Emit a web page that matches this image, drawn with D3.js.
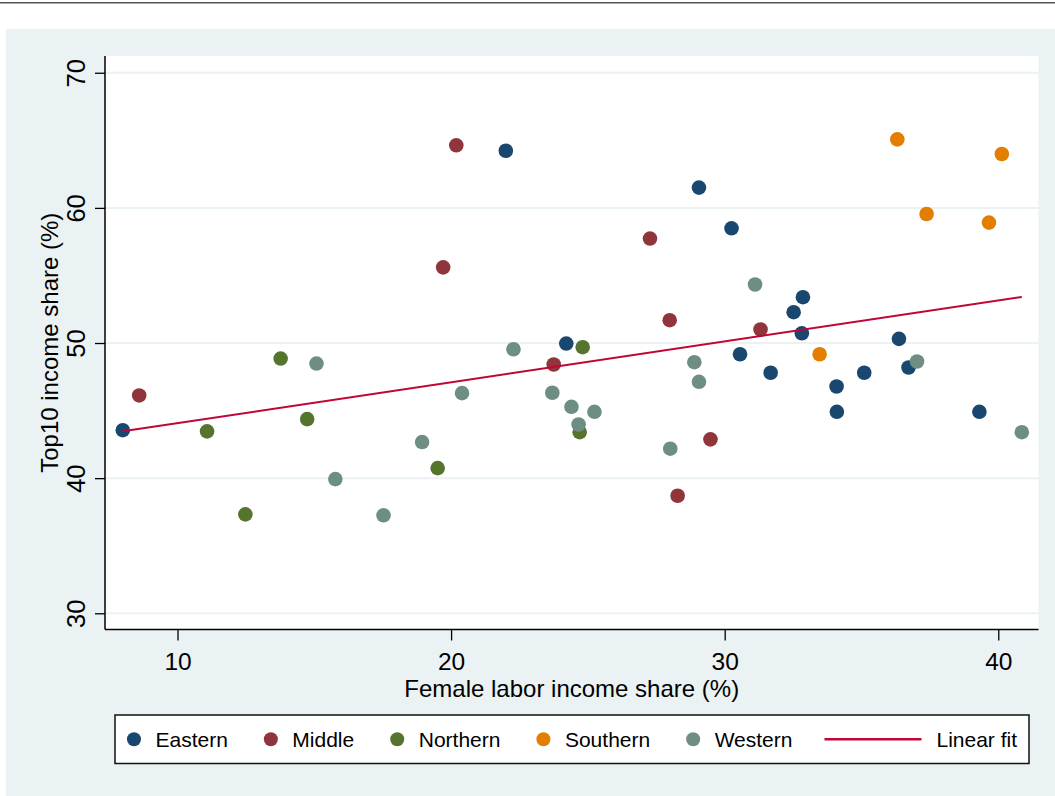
<!DOCTYPE html>
<html>
<head>
<meta charset="utf-8">
<script src="https://cdn.jsdelivr.net/npm/d3@7"></script>
<style>
  body { margin: 0; background: #fff; }
  svg { display: block; font-family: "Liberation Sans", Arial, Helvetica, sans-serif; }
</style>
</head>
<body>
<svg id="chart" width="1055" height="796"></svg>
<script>
// region groups, drawn in this order
const regions = ["Eastern", "Middle", "Northern", "Southern", "Western"];
const regionColors = ["#1a476f", "#90353b", "#55752f", "#e37e00", "#6e8e84"];

// female labor income share (%) per country, by region
const easternX = [8.0, 22.0, 24.21, 29.06, 30.25, 30.56, 31.68, 32.52, 32.86, 32.82, 34.09, 34.10, 35.10, 36.37, 36.72, 39.31];
const easternY = [43.55, 64.23, 49.96, 61.5, 58.49, 49.17, 47.8, 52.28, 53.39, 50.72, 46.78, 44.91, 47.8, 50.31, 48.19, 44.91];
const middleX = [8.6, 19.71, 20.19, 23.75, 27.27, 27.99, 29.48, 28.28, 31.31];
const middleY = [46.12, 55.6, 64.63, 48.41, 57.73, 51.69, 42.87, 38.7, 51.0];
const northernX = [11.08, 13.77, 14.74, 12.48, 19.51, 24.81, 24.7];
const northernY = [43.46, 48.85, 44.37, 37.32, 40.74, 49.69, 43.4];
const southernX = [33.47, 36.31, 37.38, 39.66, 40.13];
const southernY = [49.17, 65.07, 59.55, 58.91, 63.99];
const westernX = [15.08, 15.77, 17.53, 18.94, 20.4, 22.28, 23.7, 24.4, 25.24, 24.66, 28.89, 29.06, 28.01, 31.11, 37.03, 40.86];
const westernY = [48.48, 39.93, 37.25, 42.67, 46.29, 49.54, 46.32, 45.28, 44.91, 43.97, 48.58, 47.13, 42.18, 54.33, 48.63, 43.4];

const xTicks = [10, 20, 30, 40];
const yTicks = [30, 40, 50, 60, 70];
const xTitle = "Female labor income share (%)";
const yTitle = "Top10 income share (%)";
const fitLabel = "Linear fit";

const seriesX = [easternX, middleX, northernX, southernX, westernX];
const seriesY = [easternY, middleY, northernY, southernY, westernY];

const points = [];
regions.forEach((region, i) => {
  seriesX[i].forEach((x, j) => points.push({ region, color: regionColors[i], x, y: seriesY[i][j] }));
});

// ordinary least squares over all countries
const meanX = d3.mean(points, (d) => d.x);
const meanY = d3.mean(points, (d) => d.y);
const slope =
  d3.sum(points, (d) => (d.x - meanX) * (d.y - meanY)) /
  d3.sum(points, (d) => (d.x - meanX) ** 2);
const intercept = meanY - slope * meanX;
const fitLine = d3.extent(points, (d) => d.x).map((x) => ({ x, y: intercept + slope * x }));

const svg = d3.select("#chart");
const plot = { left: 105, right: 1038.5, top: 56, bottom: 629.5 };

const x = d3.scaleLinear().domain([7.35, 41.47]).range([plot.left, plot.right]);
const y = d3.scaleLinear().domain([28.8, 71.24]).range([plot.bottom, plot.top]);

// page rule and graph background
svg.append("line")
  .attr("x1", 0).attr("x2", 1055).attr("y1", 2.7).attr("y2", 2.7)
  .attr("stroke", "#555").attr("stroke-width", 1.4);
svg.append("rect")
  .attr("x", 6).attr("y", 29).attr("width", 1049).attr("height", 767)
  .attr("fill", "#eaf2f3");
svg.append("rect")
  .attr("x", plot.left).attr("y", plot.top)
  .attr("width", plot.right - plot.left).attr("height", plot.bottom - plot.top)
  .attr("fill", "#fff");

// gridlines
svg.append("g")
  .selectAll("line")
  .data(yTicks)
  .join("line")
  .attr("x1", plot.left).attr("x2", plot.right)
  .attr("y1", (d) => y(d)).attr("y2", (d) => y(d))
  .attr("stroke", "#eaf2f3").attr("stroke-width", 2);

// axes
const xAxis = svg.append("g")
  .attr("transform", `translate(0,${plot.bottom})`)
  .call(d3.axisBottom(x).tickValues(xTicks).tickSize(11).tickPadding(4).tickSizeOuter(0));
const yAxis = svg.append("g")
  .attr("transform", `translate(${plot.left},0)`)
  .call(d3.axisLeft(y).tickValues(yTicks).tickSize(10).tickSizeOuter(0));

[xAxis, yAxis].forEach((g) => {
  g.select(".domain").attr("stroke", "#000").attr("stroke-width", 1.5);
  g.selectAll(".tick line").attr("stroke", "#000").attr("stroke-width", 1.3);
});
xAxis.select(".domain").attr("d", `M${plot.left},0H${plot.right}`);
yAxis.select(".domain").attr("d", `M0,${plot.top}V${plot.bottom}`);

xAxis.selectAll(".tick text")
  .attr("y", 40.5).attr("dy", null)
  .attr("fill", "#000").attr("font-size", 24.5);
yAxis.selectAll(".tick text")
  .attr("x", null).attr("dy", null)
  .attr("fill", "#000").attr("font-size", 25.5)
  .attr("text-anchor", "middle")
  .attr("transform", "translate(-20,0) rotate(-90)");

// axis titles
svg.append("text")
  .attr("x", (plot.left + plot.right) / 2).attr("y", 696.5)
  .attr("text-anchor", "middle").attr("font-size", 24)
  .text(xTitle);
svg.append("text")
  .attr("transform", `translate(58,${(plot.top + plot.bottom) / 2}) rotate(-90)`)
  .attr("text-anchor", "middle").attr("font-size", 24)
  .text(yTitle);

// scatter markers
svg.append("g")
  .selectAll("circle")
  .data(points)
  .join("circle")
  .attr("cx", (d) => x(d.x))
  .attr("cy", (d) => y(d.y))
  .attr("r", 7.3)
  .attr("fill", (d) => d.color);

// fitted line
svg.append("path")
  .datum(fitLine)
  .attr("fill", "none")
  .attr("stroke", "#c10534")
  .attr("stroke-width", 2)
  .attr("d", d3.line().x((d) => x(d.x)).y((d) => y(d.y)));

// legend
const legendBox = { x: 115, y: 715, w: 914, h: 48.5 };
svg.append("rect")
  .attr("x", legendBox.x).attr("y", legendBox.y)
  .attr("width", legendBox.w).attr("height", legendBox.h)
  .attr("fill", "#fff").attr("stroke", "#111").attr("stroke-width", 1.5);

const legend = svg.append("g");
const midY = legendBox.y + legendBox.h / 2;
let cursor = 0;
regions.forEach((region, i) => {
  legend.append("circle")
    .attr("cx", cursor).attr("cy", midY).attr("r", 7)
    .attr("fill", regionColors[i]);
  const t = legend.append("text")
    .attr("x", cursor + 21.5).attr("y", midY + 8)
    .attr("font-size", 21)
    .text(region);
  cursor += 21.5 + t.node().getComputedTextLength() + 43;
});
cursor -= 4;
legend.append("line")
  .attr("x1", cursor - 7).attr("x2", cursor + 90)
  .attr("y1", midY).attr("y2", midY)
  .attr("stroke", "#c10534").attr("stroke-width", 2.5);
const fitText = legend.append("text")
  .attr("x", cursor + 105).attr("y", midY + 8)
  .attr("font-size", 21)
  .text(fitLabel);
const legendEnd = cursor + 105 + fitText.node().getComputedTextLength();
const legendStart = -7;
legend.attr("transform", `translate(${legendBox.x + legendBox.w / 2 - (legendStart + legendEnd) / 2},0)`);
</script>
</body>
</html>
